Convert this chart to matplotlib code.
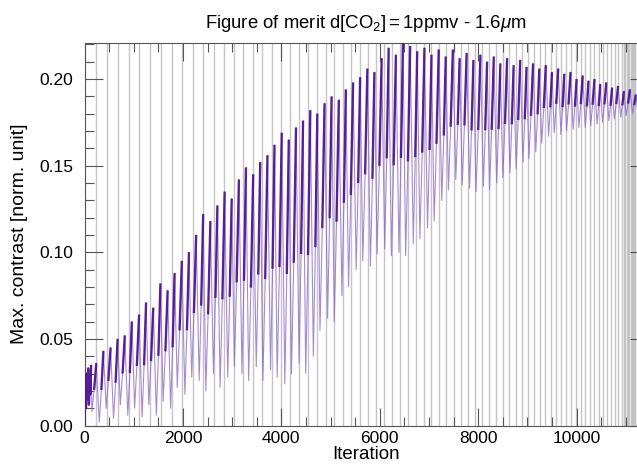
import matplotlib
matplotlib.use("Agg")
import matplotlib.pyplot as plt
from matplotlib.ticker import MultipleLocator
from matplotlib.collections import LineCollection

plt.rcParams['font.family'] = ['Liberation Sans', 'DejaVu Sans']
plt.rcParams['mathtext.fontset'] = 'custom'
plt.rcParams['mathtext.rm'] = 'Liberation Sans'
plt.rcParams['mathtext.it'] = 'Liberation Sans:italic'

# restart markers (vertical gray lines), iteration numbers
restart_x = [228, 451, 680, 895, 1114, 1331, 1555, 1770, 1985, 2200, 2415, 2630,
             2835, 3030, 3225, 3420, 3615, 3805, 3995, 4180, 4365, 4545, 4725, 4900,
             5075, 5248, 5420, 5590, 5758, 5925, 6090, 6253, 6415, 6575, 6733, 6890,
             7045, 7198, 7350, 7500, 7648, 7795, 7940, 8082, 8222, 8360, 8495, 8628,
             8758, 8885, 9009, 9130, 9248, 9363, 9475, 9584, 9690, 9793, 9893, 9990,
             10085, 10178, 10269, 10358, 10445, 10530, 10613, 10694, 10773, 10850, 10925,
             10960, 10990, 11020, 11045, 11070, 11095, 11120, 11145, 11170, 11195, 11220,
             11245, 11270, 11295, 11320, 11345, 11370, 11395, 11420, 11445]

# first iterations (dense cluster near the origin)
start_x = [0, 15, 30, 45, 60, 75, 90, 105, 120, 135]
start_y = [0.0, 0.022, 0.010, 0.030, 0.015, 0.033, 0.012, 0.028, 0.018, 0.035]

# oscillation cycles: start iteration, trough and peak of each cycle
cyc_x = [150, 300, 440, 590, 728, 880, 1018, 1170, 1305, 1460, 1598, 1750, 1885, 2040,
         2178, 2330, 2465, 2620, 2755, 2910, 3045, 3200, 3335, 3490, 3625, 3780, 3915, 4070,
         4205, 4360, 4495, 4650, 4785, 4940, 5075, 5230, 5365, 5520, 5655, 5810, 5945,
         6100, 6235, 6390, 6525, 6680, 6815, 6970, 7105, 7260, 7395,
         7545, 7675, 7825, 7955, 8105, 8230, 8375, 8500, 8645,
         8770, 8910, 9030, 9170, 9290, 9430, 9545, 9680, 9795, 9930, 10045,
         10175, 10285, 10415, 10525, 10655, 10765, 10895, 11005, 11135, 11245, 11375, 11490]
cyc_lo = [0.008, 0.002, 0.010, 0.004, 0.012, 0.006, 0.010, 0.005, 0.012, 0.006, 0.014, 0.010, 0.022, 0.018,
          0.028, 0.026, 0.020, 0.030, 0.022, 0.028, 0.034, 0.030, 0.026, 0.034, 0.026, 0.032, 0.028, 0.024,
          0.030, 0.036, 0.030, 0.040, 0.055, 0.062, 0.060, 0.075, 0.080, 0.090, 0.095, 0.092, 0.099,
          0.102, 0.098, 0.100, 0.098, 0.105, 0.108, 0.114, 0.118, 0.130, 0.136,
          0.142, 0.139, 0.137, 0.135, 0.138, 0.136, 0.140, 0.143, 0.146,
          0.148, 0.152, 0.154, 0.158, 0.163, 0.167, 0.169, 0.168, 0.170, 0.171, 0.172,
          0.172, 0.173, 0.174, 0.175, 0.176, 0.177, 0.178, 0.179, 0.180, 0.181, 0.181, 0.182]
cyc_hi = [0.036, 0.043, 0.045, 0.050, 0.052, 0.060, 0.064, 0.071, 0.068, 0.082, 0.078, 0.088, 0.095, 0.100,
          0.110, 0.122, 0.118, 0.127, 0.135, 0.131, 0.142, 0.149, 0.145, 0.152, 0.156, 0.162, 0.169, 0.165,
          0.172, 0.176, 0.182, 0.180, 0.186, 0.190, 0.188, 0.194, 0.198, 0.201, 0.206, 0.204, 0.212,
          0.218, 0.214, 0.221, 0.219, 0.216, 0.218, 0.214, 0.217, 0.213, 0.217,
          0.212, 0.215, 0.211, 0.214, 0.210, 0.213, 0.209, 0.212, 0.208,
          0.211, 0.207, 0.209, 0.206, 0.208, 0.204, 0.206, 0.203, 0.204, 0.200, 0.202,
          0.199, 0.200, 0.197, 0.198, 0.195, 0.196, 0.193, 0.194, 0.191, 0.192, 0.190, 0.190]

# build the polyline: trough -> shoulder -> peak in every cycle
xs, ys = list(start_x), list(start_y)
dark_segs = [list(zip(start_x, start_y))]
for k in range(len(cyc_x) - 1):
    x0, x1 = cyc_x[k], cyc_x[k + 1]
    w = x1 - x0
    lo, hi = cyc_lo[k], cyc_hi[k]
    sh = hi - 0.55 * (hi - lo)
    xs += [x0, x0 + 0.3 * w, x0 + 0.6 * w]
    ys += [lo, sh, hi]
    dark_segs.append([(x0 + 0.3 * w, sh), (x0 + 0.6 * w, hi)])
xs.append(cyc_x[-1])
ys.append(cyc_lo[-1])

fig = plt.figure(figsize=(6.37, 4.66), dpi=100)
ax = fig.add_axes([84.5 / 637, 40.5 / 466, (648 - 84.5) / 637, 382.5 / 466])

ax.vlines(restart_x, 0, 1, transform=ax.get_xaxis_transform(),
          colors='#c4c4c4', linewidth=1.0, zorder=1)

ax.plot(xs, ys, color='#8a63c8', linewidth=0.8, alpha=0.75, zorder=2)
ax.add_collection(LineCollection(dark_segs, colors='#4d1190', linewidths=1.7,
                                 alpha=0.9, zorder=3))

ax.set_xlim(0, 11450)
ax.set_ylim(0, 0.2208)
ax.xaxis.set_major_locator(MultipleLocator(2000))
ax.xaxis.set_minor_locator(MultipleLocator(500))
ax.yaxis.set_major_locator(MultipleLocator(0.05))
ax.yaxis.set_minor_locator(MultipleLocator(0.01))
ax.yaxis.set_major_formatter(plt.FormatStrFormatter('%.2f'))

ax.tick_params(which='both', direction='in', top=True, right=True, colors='#555555',
               labelcolor='black', labelsize=12.5, width=0.8)
ax.tick_params(which='major', length=13)
ax.tick_params(which='minor', length=6.5)
ax.tick_params(axis='x', pad=4)
ax.tick_params(axis='y', pad=8)
for s in ax.spines.values():
    s.set_color('#555555')
    s.set_linewidth(0.8)

ax.set_xlabel('Iteration', fontsize=13.5, labelpad=0)
ax.set_ylabel('Max. contrast [norm. unit]', fontsize=14, labelpad=8)
ax.set_title(r'Figure of merit d[CO$_2$]$=$1ppmv - 1.6$\mu$m', fontsize=13.3, pad=11)

fig.savefig('out.png', dpi=100)
